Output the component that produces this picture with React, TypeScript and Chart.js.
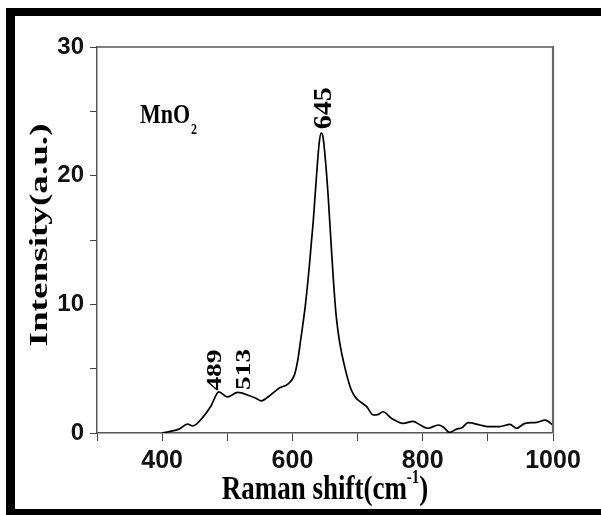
import React, { useEffect, useRef } from 'react';
import { Chart, registerables } from 'chart.js';

Chart.register(...registerables);

// Raman shift (cm^-1)
const ramanShift = [
  400, 410, 426, 439, 447, 462, 475, 487, 500, 516, 534, 544, 552, 565, 580, 593,
  603, 608, 612, 620, 626, 632, 637, 641, 644, 647, 651, 655, 659, 663, 667, 672,
  676, 680, 685, 690, 695, 700, 714, 724, 732, 739, 752, 770, 785, 797, 808, 824,
  832, 841, 852, 860, 870, 888, 900, 918, 934, 944, 957, 975, 988, 1000,
];
// Intensity (a.u.)
const intensity = [
  0.0, 0.1, 0.3, 0.7, 0.55, 1.2, 2.1, 3.2, 2.8, 3.15, 2.9, 2.7, 2.5, 2.9, 3.5, 3.8,
  4.5, 5.6, 7.0, 10.0, 13.0, 16.5, 20.0, 22.5, 23.3, 23.0, 21.0, 18.3, 15.0, 11.8, 9.2, 7.2,
  6.1, 5.2, 4.2, 3.4, 2.9, 2.6, 2.05, 1.4, 1.45, 1.65, 1.15, 0.75, 0.9, 0.6, 0.37, 0.62,
  0.45, 0.05, 0.3, 0.4, 0.8, 0.62, 0.5, 0.5, 0.67, 0.37, 0.75, 0.82, 1.0, 0.62,
];

const xTickLabels = [400, 600, 800, 1000];
const yTickLabels = [0, 10, 20, 30];
const peakLabels = ['489', '513', '645'];
const sampleName = 'MnO';
const sampleSub = '2';
const xTitle = 'Raman shift(cm';
const xTitleSup = '-1';
const yTitle = 'Intensity(a.u.)';

const SERIF = '"Liberation Serif", "Times New Roman", serif';
const SANS = '"Liberation Sans", Arial, sans-serif';

function stretchedText(
  ctx: CanvasRenderingContext2D,
  text: string,
  x: number,
  y: number,
  font: string,
  opts: { rotate?: number; sx?: number; sy?: number; align?: CanvasTextAlign; baseline?: CanvasTextBaseline }
) {
  ctx.save();
  ctx.translate(x, y);
  if (opts.rotate) ctx.rotate(opts.rotate);
  ctx.scale(opts.sx ?? 1, opts.sy ?? 1);
  ctx.font = font;
  ctx.fillStyle = '#000';
  ctx.textAlign = opts.align ?? 'left';
  ctx.textBaseline = opts.baseline ?? 'alphabetic';
  ctx.fillText(text, 0, 0);
  ctx.restore();
}

const decorPlugin = {
  id: 'decor',
  beforeDraw(chart: any) {
    const { ctx, width, height } = chart;
    ctx.save();
    ctx.fillStyle = '#fff';
    ctx.fillRect(0, 0, width, height);
    ctx.fillStyle = '#000';
    ctx.fillRect(6, 8, width - 6, 8);
    ctx.fillRect(6, 8, 9, height - 8);
    ctx.fillRect(6, 509, width - 6, height - 509);
    ctx.restore();
  },
  afterDraw(chart: any) {
    const { ctx } = chart;
    const { left, right, top, bottom } = chart.chartArea;
    const xs = chart.scales.x;
    const ys = chart.scales.y;
    ctx.save();
    ctx.strokeStyle = '#555';
    ctx.lineWidth = 1.5;
    ctx.beginPath();
    ctx.moveTo(left, top);
    ctx.lineTo(right, top);
    ctx.stroke();
    ctx.strokeStyle = '#666';
    ctx.lineWidth = 2.2;
    ctx.beginPath();
    ctx.moveTo(right, top - 1);
    ctx.lineTo(right, bottom);
    ctx.stroke();
    ctx.restore();

    // sample name
    const mx = xs.getPixelForValue(366);
    const my = ys.getPixelForValue(24.1);
    stretchedText(ctx, sampleName, mx, my, `bold 22px ${SERIF}`, { sy: 1.25 });
    ctx.save();
    ctx.font = `bold 22px ${SERIF}`;
    const mw = ctx.measureText(sampleName).width;
    ctx.restore();
    stretchedText(ctx, sampleSub, mx + mw + 1, my + 11, `bold 12px ${SERIF}`, { sy: 1.2 });

    // peak labels (rotated)
    const rot = -Math.PI / 2;
    stretchedText(ctx, peakLabels[0], xs.getPixelForValue(489) + 1, ys.getPixelForValue(3.3), `bold 21px ${SERIF}`, {
      rotate: rot, sx: 1.3, align: 'left', baseline: 'alphabetic',
    });
    stretchedText(ctx, peakLabels[1], xs.getPixelForValue(513) + 14, ys.getPixelForValue(3.35), `bold 21px ${SERIF}`, {
      rotate: rot, sx: 1.3, align: 'left', baseline: 'alphabetic',
    });
    stretchedText(ctx, peakLabels[2], xs.getPixelForValue(645) + 9, ys.getPixelForValue(23.6), `bold 25px ${SERIF}`, {
      rotate: rot, sx: 1.12, align: 'left', baseline: 'alphabetic',
    });

    // axis titles
    const cx = (left + right) / 2;
    ctx.save();
    ctx.font = `bold 27px ${SERIF}`;
    const w1 = ctx.measureText(xTitle).width;
    ctx.font = `bold 15px ${SERIF}`;
    const w2 = ctx.measureText(xTitleSup).width;
    ctx.font = `bold 27px ${SERIF}`;
    const w3 = ctx.measureText(')').width;
    ctx.restore();
    const total = w1 + w2 + w3;
    const sx0 = cx - total / 2;
    const base = 499;
    stretchedText(ctx, xTitle, sx0, base, `bold 27px ${SERIF}`, { sy: 1.28 });
    stretchedText(ctx, xTitleSup, sx0 + w1, base - 16, `bold 15px ${SERIF}`, { sy: 1.2 });
    stretchedText(ctx, ')', sx0 + w1 + w2, base, `bold 27px ${SERIF}`, { sy: 1.28 });

    stretchedText(ctx, yTitle, 40, (top + bottom) / 2 - 5, `bold 26px ${SERIF}`, {
      rotate: rot, sx: 1.43, align: 'center', baseline: 'middle',
    });
  },
};

export default function App() {
  const canvasRef = useRef<HTMLCanvasElement | null>(null);

  useEffect(() => {
    const canvas = canvasRef.current;
    if (!canvas) return;
    const points = ramanShift.map((x, i) => ({ x, y: intensity[i] }));
    const chart = new Chart(canvas, {
      type: 'line',
      data: {
        datasets: [
          {
            data: points,
            borderColor: '#000',
            borderWidth: 1.7,
            pointRadius: 0,
            cubicInterpolationMode: 'monotone',
            fill: false,
          },
        ],
      },
      options: {
        animation: false,
        responsive: false,
        devicePixelRatio: 1,
        layout: { padding: { left: 0, top: 47, right: 48, bottom: 0 } },
        plugins: { legend: { display: false }, tooltip: { enabled: false } },
        scales: {
          x: {
            type: 'linear',
            min: 300,
            max: 1000,
            afterFit: (s: any) => {
              s.height = 82;
            },
            border: { display: true, color: '#555', width: 1.5 },
            grid: { drawOnChartArea: false, drawTicks: true, tickLength: 8, tickColor: '#444', tickWidth: 1 },
            ticks: {
              stepSize: 100,
              autoSkip: false,
              maxRotation: 0,
              padding: 5,
              color: '#111',
              font: { family: SANS, size: 25, weight: 'bold' },
              callback: (v: any) => (xTickLabels.includes(Number(v)) ? String(v) : ''),
            },
          },
          y: {
            type: 'linear',
            min: 0,
            max: 30,
            afterFit: (s: any) => {
              s.width = 97;
            },
            border: { display: true, color: '#555', width: 1.5 },
            grid: { drawOnChartArea: false, drawTicks: true, tickLength: 7, tickColor: '#444', tickWidth: 1 },
            ticks: {
              stepSize: 5,
              autoSkip: false,
              padding: 6,
              color: '#111',
              font: { family: SANS, size: 24, weight: 'bold' },
              callback: (v: any) => (yTickLabels.includes(Number(v)) ? String(v) : ''),
            },
          },
        },
      },
      plugins: [decorPlugin],
    });
    return () => chart.destroy();
  }, []);

  return (
    <div style={{ position: 'fixed', left: 0, top: 0, width: 601, height: 515, background: '#fff' }}>
      <canvas ref={canvasRef} width={601} height={515} style={{ display: 'block' }} />
    </div>
  );
}
